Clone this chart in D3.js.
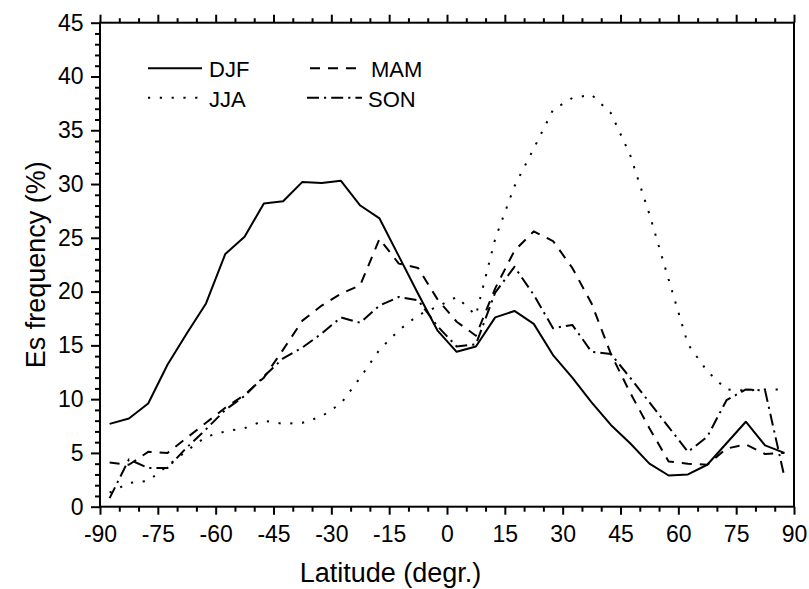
<!DOCTYPE html>
<html>
<head>
<meta charset="utf-8">
<script src="https://cdn.jsdelivr.net/npm/d3@7/dist/d3.min.js"></script>
<style>
body { margin: 0; background: #fff; }
svg text { font-family: "Liberation Sans", Arial, sans-serif; fill: #000; }
</style>
</head>
<body>
<script>
// latitude bin centres (degr.)
const latitudes = [-87.5, -82.5, -77.5, -72.5, -67.5, -62.5, -57.5, -52.5, -47.5, -42.5, -37.5, -32.5,
                   -27.5, -22.5, -17.5, -12.5, -7.5, -2.5, 2.5, 7.5, 12.5, 17.5, 22.5, 27.5,
                   32.5, 37.5, 42.5, 47.5, 52.5, 57.5, 62.5, 67.5, 72.5, 77.5, 82.5, 87.5];

// Es frequency (%) per season
const djf = [7.7, 8.2, 9.6, 13.2, 16.1, 18.9, 23.5, 25.1, 28.2, 28.4, 30.2, 30.1,
             30.3, 28.0, 26.8, 23.3, 19.8, 16.4, 14.4, 14.9, 17.6, 18.2, 17.0, 14.1,
             12.0, 9.7, 7.6, 5.9, 4.0, 2.9, 3.0, 3.9, 5.9, 7.9, 5.7, 5.0];
const mam = [4.1, 3.9, 5.1, 5.0, 6.4, 7.8, 9.2, 10.4, 12.0, 14.6, 17.3, 18.7,
             19.8, 20.6, 24.9, 22.6, 22.2, 19.3, 17.2, 15.9, 20.3, 23.8, 25.6, 24.7,
             22.2, 18.9, 14.2, 10.6, 7.3, 4.2, 4.0, 3.9, 5.4, 5.8, 4.9, 5.0];
const jja = [1.3, 2.2, 2.4, 3.8, 5.2, 6.5, 7.0, 7.3, 8.0, 7.7, 7.8, 8.4,
             9.6, 12.0, 14.6, 16.4, 17.8, 18.6, 19.5, 17.8, 24.9, 29.8, 33.3, 36.9,
             38.0, 38.3, 36.6, 32.7, 27.2, 21.1, 15.1, 12.6, 10.9, 10.8, 10.9, 10.9];
const son = [0.8, 4.4, 3.6, 3.6, 5.5, 7.2, 9.0, 10.3, 12.1, 13.8, 14.8, 16.1,
             17.6, 17.1, 18.7, 19.5, 19.2, 16.8, 14.9, 15.1, 19.9, 22.3, 19.7, 16.6,
             16.9, 14.4, 14.2, 12.0, 9.7, 7.4, 5.1, 6.5, 9.9, 10.9, 10.8, 2.8];

const seriesNames = ['DJF', 'MAM', 'JJA', 'SON'];

const xTicks = [-90, -75, -60, -45, -30, -15, 0, 15, 30, 45, 60, 75, 90];
const yTicks = [0, 5, 10, 15, 20, 25, 30, 35, 40, 45];

const svgWidth = 809;
const svgHeight = 589;
const margin = {top: 22.7, right: 15, bottom: 82.3, left: 100};
const chartWidth = svgWidth - margin.left - margin.right;
const chartHeight = svgHeight - margin.top - margin.bottom;

// line styles, one per season
const dashes = {DJF: null, MAM: '10,8', JJA: '2.2,9.6', SON: '12,5,2.2,5'};
// legend layout
const legendPos = {
    DJF: {x1: 148, x2: 202, y: 68.3, tx: 209, ty: 77},
    JJA: {x1: 148, x2: 202, y: 97.7, tx: 209, ty: 106.5},
    MAM: {x1: 310, x2: 362, y: 68.3, tx: 371, ty: 77},
    SON: {x1: 307, x2: 362, y: 97.7, tx: 368, ty: 106.5}
};

window.onload = main;

function main() {
    const values = {DJF: djf, MAM: mam, JJA: jja, SON: son};
    const data = seriesNames.map(name => ({
        name: name,
        points: latitudes.map((lat, i) => ({lat: lat, v: values[name][i]}))
    }));
    render_chart(data);
}

function render_chart(data) {
    const svg = d3.select('body')
        .append('svg')
        .attr('width', svgWidth)
        .attr('height', svgHeight);

    const g = svg.append('g')
        .attr('transform', `translate(${margin.left}, ${margin.top})`);

    const scaleX = d3.scaleLinear().domain([-90, 90]).range([0, chartWidth]);
    const scaleY = d3.scaleLinear().domain([0, 45]).range([chartHeight, 0]);

    const minorX = d3.range(-90, 91, 5).filter(v => v % 15 !== 0);
    const minorY = d3.range(0, 46, 1).filter(v => v % 5 !== 0);
    const plain = d => String(d); // keep ascii hyphen like the original

    // bottom axis, labelled
    g.append('g')
        .attr('transform', `translate(0, ${chartHeight})`)
        .call(d3.axisBottom(scaleX).tickValues(xTicks).tickFormat(plain).tickSize(8).tickPadding(11).tickSizeOuter(0))
        .call(ax => ax.selectAll('text').attr('font-size', 23));
    g.append('g')
        .attr('transform', `translate(0, ${chartHeight})`)
        .call(d3.axisBottom(scaleX).tickValues(minorX).tickSize(5).tickFormat('').tickSizeOuter(0));

    // top axis, ticks only
    g.append('g')
        .call(d3.axisTop(scaleX).tickValues(xTicks).tickSize(8).tickFormat('').tickSizeOuter(0));
    g.append('g')
        .call(d3.axisTop(scaleX).tickValues(minorX).tickSize(4.5).tickFormat('').tickSizeOuter(0));

    // left axis
    g.append('g')
        .call(d3.axisLeft(scaleY).tickValues(yTicks).tickFormat(plain).tickSize(9).tickPadding(7.5).tickSizeOuter(0))
        .call(ax => ax.selectAll('text').attr('font-size', 23));
    g.append('g')
        .call(d3.axisLeft(scaleY).tickValues(minorY).tickSize(5).tickFormat('').tickSizeOuter(0));

    g.selectAll('.domain').remove();
    g.selectAll('.tick line').attr('stroke', '#000').attr('stroke-width', 2);
    g.selectAll('.tick text').attr('fill', '#000').attr('font-family', '"Liberation Sans", Arial, sans-serif');

    // frame
    g.append('rect')
        .attr('x', 0).attr('y', 0)
        .attr('width', chartWidth).attr('height', chartHeight)
        .attr('fill', 'none')
        .attr('stroke', '#000')
        .attr('stroke-width', 2);

    const line = d3.line()
        .x(d => scaleX(d.lat))
        .y(d => scaleY(d.v));

    g.selectAll('path.series')
        .data(data)
        .join('path')
        .attr('class', 'series')
        .attr('d', d => line(d.points))
        .attr('fill', 'none')
        .attr('stroke', '#000')
        .attr('stroke-width', 2)
        .attr('stroke-linejoin', 'round')
        .attr('stroke-dasharray', d => dashes[d.name]);

    // legend
    const legend = svg.append('g');
    seriesNames.forEach(name => {
        const p = legendPos[name];
        legend.append('line')
            .attr('x1', p.x1).attr('x2', p.x2)
            .attr('y1', p.y).attr('y2', p.y)
            .attr('stroke', '#000')
            .attr('stroke-width', 2)
            .attr('stroke-dasharray', dashes[name]);
        legend.append('text')
            .attr('x', p.tx).attr('y', p.ty)
            .attr('font-size', 22)
            .text(name);
    });

    // axis titles
    svg.append('text')
        .attr('x', 390.5).attr('y', 582)
        .attr('text-anchor', 'middle')
        .attr('font-size', 27)
        .text('Latitude (degr.)');

    svg.append('text')
        .attr('transform', `translate(45, ${margin.top + chartHeight / 2}) rotate(-90)`)
        .attr('text-anchor', 'middle')
        .attr('font-size', 27)
        .text('Es frequency (%)');
}
</script>
</body>
</html>
